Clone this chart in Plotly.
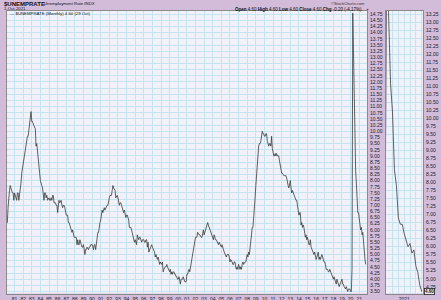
import pandas as pd
import plotly.graph_objects as go

# Monthly unemployment rate ($UNEMPRATE), Jan 1980 .. Oct 2021
rates_1980s = [
    6.3, 6.3, 6.3, 6.9, 7.5, 7.6, 7.8, 7.7, 7.5, 7.5, 7.5, 7.2,
    7.5, 7.4, 7.4, 7.2, 7.5, 7.5, 7.2, 7.4, 7.6, 7.9, 8.3, 8.5,
    8.6, 8.9, 9.0, 9.3, 9.4, 9.6, 9.8, 9.8, 10.1, 10.4, 10.8, 10.8,
    10.4, 10.4, 10.3, 10.2, 10.1, 10.1, 9.4, 9.5, 9.2, 8.8, 8.5, 8.3,
    8.0, 7.8, 7.8, 7.7, 7.4, 7.2, 7.5, 7.5, 7.3, 7.4, 7.2, 7.3,
    7.3, 7.2, 7.2, 7.3, 7.2, 7.4, 7.4, 7.1, 7.1, 7.1, 7.0, 7.0,
    6.7, 7.2, 7.2, 7.1, 7.2, 7.2, 7.0, 6.9, 7.0, 7.0, 6.9, 6.6,
    6.6, 6.6, 6.6, 6.3, 6.3, 6.2, 6.1, 6.0, 5.9, 6.0, 5.8, 5.7,
    5.7, 5.7, 5.7, 5.4, 5.6, 5.4, 5.4, 5.6, 5.4, 5.4, 5.3, 5.3,
    5.4, 5.2, 5.0, 5.2, 5.2, 5.3, 5.2, 5.2, 5.3, 5.3, 5.4, 5.4,
]
rates_1990s = [
    5.4, 5.3, 5.2, 5.4, 5.4, 5.2, 5.5, 5.7, 5.9, 5.9, 6.2, 6.3,
    6.4, 6.6, 6.8, 6.7, 6.9, 6.9, 6.8, 6.9, 6.9, 7.0, 7.0, 7.3,
    7.3, 7.4, 7.4, 7.4, 7.6, 7.8, 7.7, 7.6, 7.6, 7.3, 7.4, 7.4,
    7.3, 7.1, 7.0, 7.1, 7.1, 7.0, 6.9, 6.8, 6.7, 6.8, 6.6, 6.5,
    6.6, 6.6, 6.5, 6.4, 6.1, 6.1, 6.1, 6.0, 5.9, 5.8, 5.6, 5.5,
    5.6, 5.4, 5.4, 5.8, 5.6, 5.6, 5.7, 5.7, 5.6, 5.5, 5.6, 5.6,
    5.6, 5.5, 5.5, 5.6, 5.6, 5.3, 5.5, 5.1, 5.2, 5.2, 5.4, 5.4,
    5.3, 5.2, 5.2, 5.1, 4.9, 5.0, 4.9, 4.8, 4.9, 4.7, 4.6, 4.7,
    4.6, 4.6, 4.7, 4.3, 4.4, 4.5, 4.5, 4.5, 4.6, 4.5, 4.4, 4.4,
    4.3, 4.4, 4.2, 4.3, 4.2, 4.3, 4.3, 4.2, 4.2, 4.1, 4.1, 4.0,
]
rates_2000s = [
    4.0, 4.1, 4.0, 3.8, 4.0, 4.0, 4.0, 4.1, 3.9, 3.9, 3.9, 3.9,
    4.2, 4.2, 4.3, 4.4, 4.3, 4.5, 4.6, 4.9, 5.0, 5.3, 5.5, 5.7,
    5.7, 5.7, 5.7, 5.9, 5.8, 5.8, 5.8, 5.7, 5.7, 5.7, 5.9, 6.0,
    5.8, 5.9, 5.9, 6.0, 6.1, 6.3, 6.2, 6.1, 6.1, 6.0, 5.8, 5.7,
    5.7, 5.6, 5.8, 5.6, 5.6, 5.6, 5.5, 5.4, 5.4, 5.5, 5.4, 5.4,
    5.3, 5.4, 5.2, 5.2, 5.1, 5.0, 5.0, 4.9, 5.0, 5.0, 5.0, 4.9,
    4.7, 4.8, 4.7, 4.7, 4.6, 4.6, 4.7, 4.7, 4.5, 4.4, 4.5, 4.4,
    4.6, 4.5, 4.4, 4.5, 4.4, 4.6, 4.7, 4.6, 4.7, 4.7, 4.7, 5.0,
    5.0, 4.9, 5.1, 5.0, 5.4, 5.6, 5.8, 6.1, 6.1, 6.5, 6.8, 7.3,
    7.8, 8.3, 8.7, 9.0, 9.4, 9.5, 9.5, 9.6, 9.8, 10.0, 9.9, 9.9,
]
rates_2010s = [
    9.8, 9.8, 9.9, 9.9, 9.6, 9.4, 9.4, 9.5, 9.5, 9.4, 9.8, 9.3,
    9.1, 9.0, 9.0, 9.1, 9.0, 9.1, 9.0, 9.0, 9.0, 8.8, 8.6, 8.5,
    8.3, 8.3, 8.2, 8.2, 8.2, 8.2, 8.2, 8.1, 7.8, 7.8, 7.7, 7.9,
    8.0, 7.7, 7.5, 7.6, 7.5, 7.5, 7.3, 7.2, 7.2, 7.2, 6.9, 6.7,
    6.6, 6.7, 6.7, 6.2, 6.3, 6.1, 6.2, 6.1, 5.9, 5.7, 5.8, 5.6,
    5.7, 5.5, 5.4, 5.4, 5.6, 5.3, 5.2, 5.1, 5.0, 5.0, 5.1, 5.0,
    4.8, 4.9, 5.0, 5.1, 4.8, 4.9, 4.8, 4.9, 5.0, 4.9, 4.7, 4.7,
    4.7, 4.6, 4.4, 4.4, 4.4, 4.3, 4.3, 4.4, 4.3, 4.2, 4.2, 4.1,
    4.0, 4.1, 4.0, 4.0, 3.8, 4.0, 3.8, 3.8, 3.7, 3.8, 3.8, 3.9,
    4.0, 3.8, 3.8, 3.7, 3.6, 3.6, 3.7, 3.6, 3.5, 3.6, 3.6, 3.6,
]
rates_2020s = [
    3.5, 3.5, 4.4, 14.8, 13.3, 11.1, 10.2, 8.4, 7.9, 6.9, 6.7, 6.7,
    6.4, 6.2, 6.0, 6.1, 5.8, 5.9, 5.4, 5.2, 4.8, 4.6,
]

main_years = list(range(1981, 2022))
main_year_labels = [f"{y % 100:02d}" for y in main_years]
main_ticks = [f"{v / 4:.2f}" for v in range(14, 60)]          # 3.50 .. 14.75
zoom_ticks = [f"{v / 4:.2f}" for v in range(19, 54)]          # 4.75 .. 13.25
zoom_quarters = ["2020-04-01", "2020-07-01", "2020-10-01", "2021-01-01",
                 "2021-04-01", "2021-07-01", "2021-10-01"]
zoom_quarter_labels = ["", "", "", "2021", "", "", ""]

rates = rates_1980s + rates_1990s + rates_2000s + rates_2010s + rates_2020s
dates = pd.date_range("1980-01-01", periods=len(rates), freq="MS")
zs = pd.Series(rates, index=dates)
zs = zs[zs.index >= "2020-03-01"]

W, H = 441, 300
def fx(x): return x / W
def fy(y): return 1 - y / H

PURPLE = "#D3BBDA"
PLOTBG = "#F1F1F9"
GRID = "#C6E4EF"
LINE = "#3b3b3b"
FONT = "Liberation Sans"

fig = go.Figure()
fig.add_trace(go.Scatter(x=dates, y=rates, mode="lines",
                         line=dict(color=LINE, width=0.8),
                         xaxis="x", yaxis="y", showlegend=False, hoverinfo="skip"))
fig.add_trace(go.Scatter(x=zs.index, y=zs.values, mode="lines",
                         line=dict(color=LINE, width=0.8),
                         xaxis="x2", yaxis="y2", showlegend=False, hoverinfo="skip"))

top, bot = 11, 293.5
common = dict(showline=True, mirror=True, linecolor="#8a8a8a", linewidth=1,
              gridcolor=GRID, gridwidth=1, zeroline=False, ticks="",
              fixedrange=True, automargin=False,
              tickfont=dict(size=5, color="#222", family=FONT))

fig.update_layout(
    width=W, height=H, margin=dict(l=0, r=0, t=0, b=0),
    paper_bgcolor=PURPLE, plot_bgcolor=PLOTBG, showlegend=False,
    font=dict(family=FONT, color="#222"),
    xaxis=dict(domain=[fx(7), fx(367)], anchor="y",
               range=["1980-02-16", "2021-11-26"], type="date",
               tickmode="array", tickvals=[f"{y}-01-01" for y in main_years],
               ticktext=main_year_labels, ticklabelstandoff=0, **common),
    yaxis=dict(domain=[fy(bot), fy(top)], anchor="x", side="right",
               range=[3.42, 14.88], tickmode="array",
               tickvals=[float(t) for t in main_ticks], ticktext=main_ticks,
               ticklabelstandoff=1, **common),
    xaxis2=dict(domain=[fx(386), fx(423)], anchor="y2",
                range=["2020-03-22", "2021-10-21"], type="date",
                tickmode="array", tickvals=zoom_quarters,
                ticktext=zoom_quarter_labels, ticklabelstandoff=0, **common),
    yaxis2=dict(domain=[fy(bot), fy(top)], anchor="x2", side="right",
                range=[4.54, 13.35], tickmode="array",
                tickvals=[float(t) for t in zoom_ticks], ticktext=zoom_ticks,
                ticklabelstandoff=1, **common),
)

def ann(x, y, text, size=4.5, xanchor="left", color="#111", **kw):
    fig.add_annotation(x=fx(x), y=fy(y), xref="paper", yref="paper", text=text,
                       showarrow=False, xanchor=xanchor, yanchor="middle",
                       font=dict(size=size, color=color, family=FONT), **kw)

last = rates[-1]
prev = rates[-2]
chg = last - prev
ann(2, 3.6, "<b>$UNEMPRATE</b>", size=6)
ann(42, 3.8, "Unemployment Rate INDX", size=4.3)
ann(2, 8.2, "1-Oct-2021", size=4.3)
ann(367, 3.3, "©StockCharts.com", size=4, xanchor="right", color="#333")
ann(364, 9.0, f"<b>Open</b> {last:.2f} <b>High</b> {last:.2f} <b>Low</b> {last:.2f} "
              f"<b>Close</b> {last:.2f} <b>Chg</b> {chg:.2f} ({chg / prev * 100:.2f}%)",
    size=4.5, xanchor="right")
ann(364.5, 9.0, "▪", size=5, color="#d00000")
ann(7.5, 13.6, f"<span style='color:{LINE}'>—</span> $UNEMPRATE (Monthly) {last:.2f} (29 Oct)",
    size=4.3)
fig.add_annotation(x=fx(424), y=last, xref="paper", yref="y2", text=f"<b>{last:.2f}</b>",
                   showarrow=False, xanchor="left", yanchor="middle",
                   font=dict(size=4.5, color="#111", family=FONT),
                   bgcolor="#EDEDED", bordercolor="#222", borderwidth=0.8, borderpad=0.3)

fig.write_html("out.html")
